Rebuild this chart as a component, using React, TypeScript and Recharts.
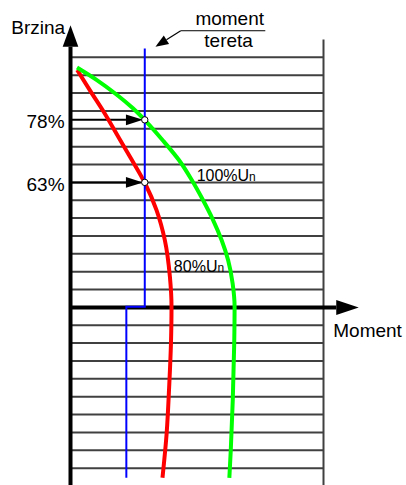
import React from 'react';
import { LineChart, Line, XAxis, YAxis, ReferenceLine, ReferenceDot } from 'recharts';

// Moment (x) and speed "Brzina" (y) in grid units
const greenMoment = [0.36, 1.44, 2.58, 3.44, 4.11, 5.17, 6.0, 6.71, 7.33, 7.89, 8.36, 8.72, 8.97, 9.08, 9.06, 8.98, 8.87, 8.79];
const greenSpeed = [13.43, 12.74, 11.89, 11.16, 10.49, 9.28, 8.25, 7.13, 6.01, 4.89, 3.77, 2.65, 1.35, 0.04, -1.99, -5.18, -7.98, -9.54];

const redMoment = [0.37, 1.12, 1.91, 2.69, 3.34, 4.11, 4.76, 5.22, 5.5, 5.59, 5.56, 5.46, 5.32, 5.09];
const redSpeed = [13.29, 12.08, 10.83, 9.47, 8.35, 6.98, 5.45, 3.77, 1.72, 0.04, -1.99, -4.44, -7.05, -9.54];

const loadMoment = [4.11, 4.11, 3.09, 3.09];
const loadSpeed = [14.5, 0.03, 0.03, -9.54];

const gridSpeeds = [-9, -8, -7, -6, -5, -4, -3, -2, -1, 1, 2, 3, 4, 5, 6, 7, 8, 9, 10, 11, 12, 13, 14];

const markSpeeds = [10.5, 7.0];
const markLabels = ['78%', '63%'];
const markMoment = 4.11;

const toData = (xs: number[], ys: number[]) => xs.map((x, i) => ({ x, y: ys[i] }));
const greenData = toData(greenMoment, greenSpeed);
const redData = toData(redMoment, redSpeed);
const loadData = toData(loadMoment, loadSpeed);

const FONT = '"Liberation Sans", Arial, sans-serif';

const arrowShape = (headLen: number, halfW: number, width: number) => (p: any) => {
  const { x1, y1, x2, y2 } = p;
  const dx = x2 - x1;
  const dy = y2 - y1;
  const len = Math.sqrt(dx * dx + dy * dy) || 1;
  const ux = dx / len;
  const uy = dy / len;
  const bx = x2 - ux * headLen;
  const by = y2 - uy * headLen;
  const px = -uy * halfW;
  const py = ux * halfW;
  return (
    <g>
      <line x1={x1} y1={y1} x2={bx} y2={by} stroke="#000" strokeWidth={width} />
      <polygon points={`${x2},${y2} ${bx + px},${by + py} ${bx - px},${by - py}`} fill="#000" />
    </g>
  );
};

const textShape = (content: React.ReactNode, anchor: 'start' | 'middle' | 'end', size: number) => (p: any) => (
  <text x={p.cx} y={p.cy} textAnchor={anchor} fontSize={size} fontFamily={FONT} fill="#000">
    {content}
  </text>
);

export default function App() {
  return (
    <div style={{ position: 'absolute', left: 0, top: 0, width: 406, height: 485, overflow: 'hidden', background: '#fff' }}>
      <LineChart width={406} height={486} margin={{ top: 39.5, right: 82.5, bottom: 0, left: 70.5 }}>
        <XAxis type="number" dataKey="x" domain={[0, 14]} hide allowDataOverflow />
        <YAxis type="number" dataKey="y" domain={[-10, 15]} hide allowDataOverflow />

        {gridSpeeds.map((s) => (
          <ReferenceLine key={'g' + s} y={s} stroke="#404040" strokeWidth={2} ifOverflow="visible" />
        ))}
        <ReferenceLine x={14} stroke="#404040" strokeWidth={2} ifOverflow="visible" />

        {/* axes with arrows */}
        <ReferenceLine segment={[{ x: 0, y: -10 }, { x: 0, y: 15.8 }]} ifOverflow="visible" shape={arrowShape(21.5, 7.8, 4)} />
        <ReferenceLine segment={[{ x: 0, y: 0 }, { x: 15.95, y: 0 }]} ifOverflow="visible" shape={arrowShape(22.5, 7.5, 4)} />

        {/* speed markers */}
        {markSpeeds.map((s) => (
          <ReferenceLine key={'a' + s} segment={[{ x: 0.05, y: s }, { x: markMoment - 0.1, y: s }]} ifOverflow="visible" shape={arrowShape(17, 5.3, 2)} />
        ))}

        <Line data={redData} dataKey="y" type="monotoneY" stroke="#ff0000" strokeWidth={4} dot={false} isAnimationActive={false} />
        <Line data={greenData} dataKey="y" type="monotoneY" stroke="#00ff00" strokeWidth={4} dot={false} isAnimationActive={false} />
        <Line data={loadData} dataKey="y" type="linear" stroke="#0000ff" strokeWidth={2} dot={false} isAnimationActive={false} />

        {markSpeeds.map((s) => (
          <ReferenceDot key={'d' + s} x={markMoment} y={s} r={3.2} fill="#fff" stroke="#000" strokeWidth={1} ifOverflow="visible" />
        ))}
        {markSpeeds.map((s, i) => (
          <ReferenceDot key={'t' + s} x={-0.33} y={s - 0.47} r={0} ifOverflow="visible" shape={textShape(markLabels[i], 'end', 19)} />
        ))}

        {/* load torque annotation */}
        <ReferenceLine segment={[{ x: 10.78, y: 15.49 }, { x: 6.1, y: 15.49 }]} ifOverflow="visible" stroke="#000" strokeWidth={1} />
        <ReferenceLine segment={[{ x: 6.1, y: 15.49 }, { x: 4.7, y: 14.6 }]} ifOverflow="visible" shape={arrowShape(13, 5, 1.2)} />

        {/* texts */}
        <ReferenceDot x={-0.3} y={15.3} r={0} ifOverflow="visible" shape={textShape('Brzina', 'end', 19)} />
        <ReferenceDot x={8.81} y={15.81} r={0} ifOverflow="visible" shape={textShape('moment', 'middle', 19)} />
        <ReferenceDot x={8.75} y={14.58} r={0} ifOverflow="visible" shape={textShape('tereta', 'middle', 19)} />
        <ReferenceDot x={14.54} y={-1.64} r={0} ifOverflow="visible" shape={textShape('Moment', 'start', 19)} />
        <ReferenceDot
          x={6.98}
          y={7.08}
          r={0}
          ifOverflow="visible"
          shape={textShape(<>100%U<tspan fontSize={12}>n</tspan></>, 'start', 16)}
        />
        <ReferenceDot
          x={5.72}
          y={2.01}
          r={0}
          ifOverflow="visible"
          shape={textShape(<>80%U<tspan fontSize={12}>n</tspan></>, 'start', 16)}
        />
      </LineChart>
    </div>
  );
}
